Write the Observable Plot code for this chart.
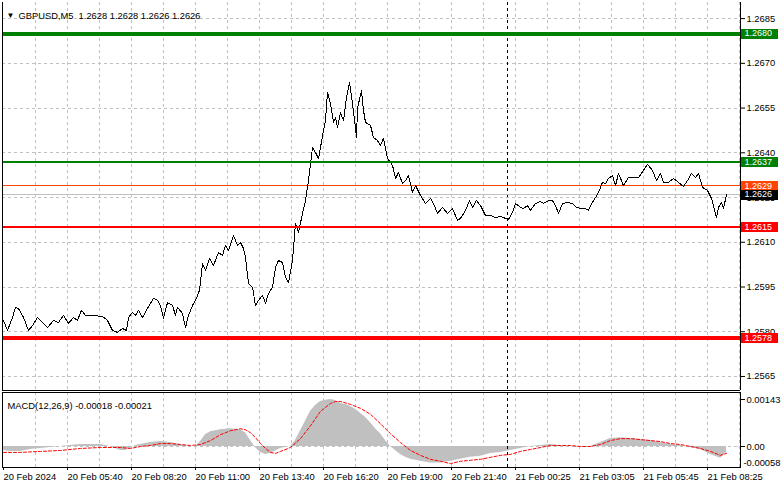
<!DOCTYPE html>
<html><head><meta charset="utf-8">
<script src="https://cdn.jsdelivr.net/npm/d3@7"></script>
<script src="https://cdn.jsdelivr.net/npm/@observablehq/plot@0.6"></script>
<style>
body{margin:0;background:#fff;}
#chart{position:relative;width:781px;height:489px;overflow:hidden;background:#fff;}
#chart svg{position:absolute;left:0;}
</style></head><body><div id="chart"></div>
<script>
// ---- data (bar index = 5-minute bars from the first bar) ----
const priceData = [[0,1.25838],[2,1.25804],[4.5,1.25848],[6,1.25882],[7.5,1.25878],[10,1.25848],[12.5,1.25804],[14.5,1.25821],[17,1.25848],[19.5,1.25831],[22,1.25814],[25,1.25838],[27.5,1.25831],[30,1.25855],[32.5,1.25828],[35,1.25848],[37,1.25838],[39,1.25872],[41,1.25855],[44.5,1.25855],[49.5,1.25851],[52,1.25838],[54.5,1.25804],[57,1.25798],[59.5,1.25811],[61.5,1.25804],[62.5,1.25848],[64.5,1.25865],[66,1.25855],[67.5,1.25872],[69.5,1.25848],[72,1.25878],[73.5,1.25895],[75,1.25912],[77,1.25905],[78.5,1.25888],[80,1.25845],[82,1.25898],[84.5,1.25888],[86,1.25855],[87,1.25882],[89.5,1.25861],[91,1.25814],[92.5,1.25855],[94.5,1.25888],[96,1.25905],[98,1.25939],[99.5,1.26029],[101,1.26006],[103,1.26046],[105,1.26022],[107.5,1.26066],[109.5,1.26056],[111,1.26089],[112.5,1.26073],[115,1.26123],[117,1.26089],[118.5,1.26099],[120,1.26079],[121,1.26049],[122.5,1.25962],[124.5,1.25949],[126,1.25888],[127.5,1.25905],[129.5,1.25922],[131,1.25895],[132.5,1.25928],[134.5,1.25949],[136,1.26016],[137.5,1.26039],[139.5,1.26032],[141,1.25982],[142.5,1.25965],[144.5,1.26039],[146,1.26163],[147.5,1.26133],[149.5,1.26197],[151,1.26240],[152.5,1.26307],[154.5,1.26418],[156,1.26401],[157.5,1.26381],[158.5,1.26418],[160,1.26475],[161,1.26508],[162,1.26602],[163.5,1.26565],[165,1.26502],[166,1.26518],[167,1.26485],[168.5,1.26535],[170,1.26508],[171.5,1.26585],[173,1.26636],[174.5,1.26565],[176,1.26482],[176.5,1.26451],[177,1.26549],[179,1.26609],[180,1.26542],[181,1.26502],[183.5,1.26492],[185,1.26451],[187,1.26441],[188.5,1.26425],[190,1.26448],[192,1.26381],[194.5,1.26358],[196,1.26314],[197.5,1.26334],[199.5,1.26297],[201,1.26307],[202.5,1.26324],[204.5,1.26267],[206,1.26290],[208.5,1.26257],[211,1.26230],[213.5,1.26247],[215,1.26230],[217,1.26197],[219.5,1.26217],[222,1.26197],[224.5,1.26213],[227,1.26173],[228.5,1.26180],[231,1.26207],[233,1.26240],[234.5,1.26217],[236.5,1.26240],[238.5,1.26223],[241,1.26190],[243.5,1.26190],[246,1.26183],[248.5,1.26187],[251,1.26180],[252.5,1.26177],[254.5,1.26200],[256,1.26230],[258.5,1.26217],[260,1.26213],[262,1.26223],[263.5,1.26207],[266,1.26230],[268.5,1.26237],[270,1.26230],[272.5,1.26240],[274.5,1.26240],[276,1.26223],[277.5,1.26197],[279.5,1.26230],[282,1.26234],[284.5,1.26230],[286.5,1.26217],[288.5,1.26213],[291,1.26213],[292.5,1.26207],[294.5,1.26234],[296,1.26250],[297.5,1.26267],[299.5,1.26301],[301,1.26297],[302.5,1.26314],[304.5,1.26324],[306,1.26290],[307.5,1.26331],[310,1.26290],[312.5,1.26317],[315,1.26317],[317.5,1.26317],[320,1.26341],[322,1.26361],[324.5,1.26341],[326.5,1.26307],[328.5,1.26331],[330,1.26301],[332.5,1.26301],[335,1.26314],[337.5,1.26301],[340,1.26287],[342,1.26307],[344,1.26331],[346,1.26317],[347.5,1.26331],[349.5,1.26284],[352,1.26274],[354,1.26247],[355,1.26223],[356.5,1.26183],[357.5,1.26217],[359,1.26234],[360,1.26213],[361.5,1.26260]];

const macdMain = [[0,-0.00012],[3.5,-0.00015],[8.5,-0.00015],[13.5,-0.00009],[18.5,-0.00006],[23.5,-0.00003],[28.5,0],[33.5,0.00003],[38.5,0.00006],[43.5,0.00006],[48.5,0.00006],[53.5,0],[56,-0.00006],[58.5,-0.00012],[61,-0.00012],[63.5,-0.00006],[66,0.00003],[68.5,0.00006],[73.5,0.00012],[78.5,0.00015],[83.5,0.00012],[88.5,0.00006],[93.5,0],[96,0],[98.5,0.00015],[101,0.00036],[103.5,0.00045],[108.5,0.00051],[113.5,0.00054],[118.5,0.00051],[121,0.00042],[123.5,0.00018],[126,-0.00003],[128.5,-0.00018],[131,-0.00024],[133.5,-0.00021],[138.5,-0.00006],[143.5,0],[146,0.00018],[148.5,0.00048],[151,0.00077],[153.5,0.00107],[156,0.00125],[158.5,0.00137],[161,0.00141],[163.5,0.00143],[166,0.0014],[168.5,0.00131],[171,0.00128],[173.5,0.00122],[176,0.00113],[178.5,0.00101],[181,0.00089],[183.5,0.00072],[186,0.00054],[188.5,0.00039],[191,0.00018],[193.5,0],[196,-0.00012],[198.5,-0.00024],[201,-0.00033],[203.5,-0.00039],[208.5,-0.00045],[213.5,-0.0005],[218.5,-0.0005],[223.5,-0.00045],[228.5,-0.00039],[233.5,-0.00033],[238.5,-0.0003],[243.5,-0.00021],[248.5,-0.00018],[253.5,-0.00012],[258.5,-0.00006],[263.5,0],[268.5,0.00003],[273.5,0.00006],[278.5,0.00003],[283.5,0],[288.5,-0.00003],[293.5,0],[298.5,0.00012],[303.5,0.00024],[308.5,0.00027],[313.5,0.00024],[318.5,0.00021],[323.5,0.00018],[328.5,0.00012],[333.5,0.00006],[338.5,0.00003],[343.5,-0.00003],[348.5,-0.00009],[353.5,-0.00024],[358.5,-0.00036],[361.5,-0.00018]];

const macdSignal = [[0,-0.00018],[8.5,-0.00018],[18.5,-0.00015],[28.5,-0.00012],[38.5,-0.00006],[48.5,-0.00003],[58.5,-0.00003],[63.5,-0.00006],[68.5,0],[73.5,0.00003],[78.5,0.00009],[83.5,0.00009],[88.5,0.00006],[93.5,0.00003],[98.5,0.00006],[103.5,0.00018],[108.5,0.00036],[113.5,0.00048],[118.5,0.00054],[121,0.00051],[123.5,0.00042],[126,0.00027],[128.5,0.00009],[131,-0.00006],[133.5,-0.00018],[136,-0.00021],[138.5,-0.00015],[143.5,-0.00003],[148.5,0.00024],[153.5,0.00063],[158.5,0.00107],[163.5,0.00131],[166,0.00137],[168.5,0.00137],[173.5,0.00128],[178.5,0.00116],[183.5,0.00098],[188.5,0.00069],[193.5,0.00039],[198.5,0.00012],[203.5,-0.00012],[208.5,-0.00027],[213.5,-0.00039],[218.5,-0.00045],[223.5,-0.00052],[228.5,-0.00045],[233.5,-0.00042],[238.5,-0.00039],[243.5,-0.00033],[248.5,-0.00027],[253.5,-0.00024],[258.5,-0.00015],[263.5,-0.00009],[268.5,-0.00003],[273.5,0.00003],[278.5,0.00003],[283.5,0.00003],[288.5,0],[293.5,0],[298.5,0.00006],[303.5,0.00018],[308.5,0.00024],[313.5,0.00024],[318.5,0.00021],[323.5,0.00018],[328.5,0.00015],[333.5,0.00009],[338.5,0.00006],[343.5,0],[348.5,-0.00006],[353.5,-0.00015],[358.5,-0.00027],[361.5,-0.00021]];

const priceTicks = [1.2685, 1.2670, 1.2655, 1.2640, 1.2625, 1.2610, 1.2595, 1.2580, 1.2565];
const macdTicks = [0.00143, 0, -0.00058];
const timeTickBars = [0, 32, 64, 96, 128, 160, 192, 224, 256, 288, 320, 352];
const timeTickLabels = ["20 Feb 2024","20 Feb 05:40","20 Feb 08:20","20 Feb 11:00","20 Feb 13:40","20 Feb 16:20","20 Feb 19:00","20 Feb 21:40","21 Feb 00:25","21 Feb 03:05","21 Feb 05:45","21 Feb 08:25"];
const greenLevels = [1.2680, 1.2637];
const redLevels = [1.2615, 1.2578];
const askPrice = 1.2629;
const bidPrice = 1.2626;
const dayBreakBar = 252;
const titleText = "GBPUSD,M5\u00a0\u00a01.2628 1.2628 1.2626 1.2626";
const macdText = "MACD(12,26,9) -0.00018 -0.00021";

// ---- drawing ----
const X_DOMAIN = [-0.5, 368.5];
const Y_DOMAIN = [1.25603, 1.26904];
const MACD_DOMAIN = [-0.000639, 0.001643];
const FONT = "'Liberation Sans', Arial, sans-serif";
const FS = 9.4;
const GRID = "#c0c0c0";
const gridBars = d3.range(16, 369, 16);
const labelOf = new Map(timeTickBars.map((b, i) => [b, timeTickLabels[i]]));
const boxX1 = X_DOMAIN[1] + 0.5, boxX2 = X_DOMAIN[1] + 19, boxTextX = X_DOMAIN[1] + 2;
const boxes = [
  {p: greenLevels[0], c: "#008000"},
  {p: greenLevels[1], c: "#008000"},
  {p: askPrice, c: "#ff4500"},
  {p: bidPrice, c: "#000000"},
  {p: redLevels[0], c: "#ff0000"},
  {p: redLevels[1], c: "#ff0000"}
];

const main = Plot.plot({
  width: 781, height: 391,
  marginLeft: 2, marginRight: 41, marginTop: 2, marginBottom: 1,
  style: {fontFamily: FONT, fontSize: FS + "px", background: "white", color: "black", overflow: "visible"},
  x: {domain: X_DOMAIN, axis: null, label: null},
  y: {domain: Y_DOMAIN, axis: null, label: null},
  color: {type: "identity"},
  marks: [
    Plot.ruleX(gridBars, {stroke: GRID, strokeDasharray: "3,3", shapeRendering: "crispEdges"}),
    Plot.ruleY(priceTicks, {stroke: GRID, strokeDasharray: "3,3", shapeRendering: "crispEdges"}),
    Plot.ruleX([dayBreakBar], {stroke: "black", strokeDasharray: "3,3", shapeRendering: "crispEdges"}),
    Plot.ruleY([bidPrice], {stroke: "#c0c0c0", shapeRendering: "crispEdges"}),
    Plot.ruleY([askPrice], {stroke: "#ff4500", shapeRendering: "crispEdges"}),
    Plot.line(priceData, {x: d => d[0], y: d => d[1], stroke: "black", strokeWidth: 1, shapeRendering: "crispEdges"}),
    Plot.ruleY([greenLevels[0]], {stroke: "#008000", strokeWidth: 4, shapeRendering: "crispEdges"}),
    Plot.ruleY([greenLevels[1]], {stroke: "#008000", strokeWidth: 2, shapeRendering: "crispEdges"}),
    Plot.ruleY([redLevels[0]], {stroke: "#ff0000", strokeWidth: 2, shapeRendering: "crispEdges"}),
    Plot.ruleY([redLevels[1]], {stroke: "#ff0000", strokeWidth: 4, shapeRendering: "crispEdges"}),
    Plot.ruleX([X_DOMAIN[0], X_DOMAIN[1]], {stroke: "black", shapeRendering: "crispEdges"}),
    Plot.ruleY([Y_DOMAIN[0]], {stroke: "black", shapeRendering: "crispEdges"}),
    Plot.axisY({anchor: "right", label: null, ticks: priceTicks, tickSize: 4, tickPadding: 2, tickFormat: d => d.toFixed(4)}),
    Plot.ruleY(boxes, {y: "p", x1: boxX1, x2: boxX2, stroke: "c", strokeWidth: 10, shapeRendering: "crispEdges"}),
    Plot.text(boxes, {y: "p", x: boxTextX, text: d => d.p.toFixed(4), fill: "white", textAnchor: "start", fontSize: 9}),
    Plot.text(["\u25BC"], {frameAnchor: "top-left", dx: 4, dy: 10, fontSize: 8, textAnchor: "start"}),
    Plot.text([titleText], {frameAnchor: "top-left", dx: 16, dy: 10, textAnchor: "start", fontSize: FS})
  ]
});
main.style.top = "0px";
// title spans x 18..200 in the reference
d3.select(main).selectAll("text").filter(function() { return this.textContent === titleText; })
  .attr("textLength", 182).attr("lengthAdjust", "spacingAndGlyphs");

const macd = Plot.plot({
  width: 781, height: 98,
  marginLeft: 2, marginRight: 41, marginTop: 1, marginBottom: 22,
  style: {fontFamily: FONT, fontSize: FS + "px", background: "white", color: "black", overflow: "visible"},
  x: {domain: X_DOMAIN, axis: null, label: null},
  y: {domain: MACD_DOMAIN, axis: null, label: null},
  marks: [
    Plot.ruleX(gridBars, {stroke: GRID, strokeDasharray: "3,3", shapeRendering: "crispEdges"}),
    Plot.areaY(macdMain, {x: d => d[0], y1: 0, y2: d => d[1], fill: "#c0c0c0"}),
    Plot.ruleY([0], {stroke: GRID, strokeDasharray: "3,3", shapeRendering: "crispEdges"}),
    Plot.line(macdSignal, {x: d => d[0], y: d => d[1], stroke: "#ff0000", strokeWidth: 1, strokeDasharray: "3,2"}),
    Plot.ruleX([dayBreakBar], {stroke: "black", strokeDasharray: "3,3", shapeRendering: "crispEdges"}),
    Plot.frame({stroke: "black", shapeRendering: "crispEdges"}),
    Plot.axisY({anchor: "right", label: null, ticks: macdTicks.slice(0, 2), tickSize: 4, tickPadding: 2, tickFormat: d => d === 0 ? "0.00" : d.toFixed(5)}),
    Plot.axisY({anchor: "right", label: null, ticks: macdTicks.slice(2), tickSize: 0, tickPadding: 3, dy: -3, tickFormat: d => d.toFixed(5)}),
    Plot.axisX({anchor: "bottom", label: null, ticks: timeTickBars, tickSize: 3, tickPadding: 3, textAnchor: "start", tickFormat: d => labelOf.get(d)}),
    Plot.text([macdText], {frameAnchor: "top-left", dx: 5, dy: 10, textAnchor: "start"})
  ]
});
macd.style.top = "391px";

const el = document.getElementById("chart");
el.appendChild(main);
el.appendChild(macd);
</script>
</body></html>
